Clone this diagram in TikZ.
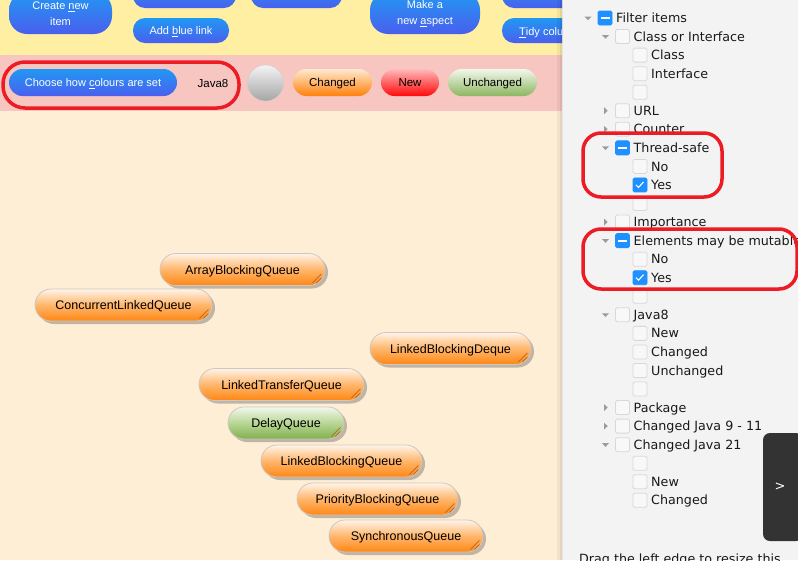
\documentclass[tikz,border=0pt]{standalone}
\usepackage{fontspec}
\setmainfont{Liberation Sans}
\newfontfamily\pf{DejaVu Sans}
\usetikzlibrary{shadows,calc}
\definecolor{tbyellow}{RGB}{255,239,163}
\definecolor{tbpink}{RGB}{248,198,192}
\definecolor{canvasbg}{RGB}{255,238,214}
\definecolor{panelbg}{RGB}{243,243,243}
\definecolor{btntop}{RGB}{33,152,243}
\definecolor{btnbot}{RGB}{74,95,238}
\definecolor{redmark}{RGB}{237,28,36}
\definecolor{orgtop}{RGB}{255,244,232}
\definecolor{orgmid}{RGB}{255,182,108}
\definecolor{orgbot}{RGB}{255,135,20}
\definecolor{grntop}{RGB}{242,248,236}
\definecolor{grnmid}{RGB}{184,214,148}
\definecolor{grnbot}{RGB}{128,176,78}
\definecolor{cbblue}{RGB}{30,144,255}
\definecolor{cbline}{RGB}{216,216,216}
\definecolor{trigray}{RGB}{155,155,155}
\definecolor{darkbtn}{RGB}{51,51,51}
\definecolor{griporg}{RGB}{190,100,25}
\definecolor{pilledge}{RGB}{205,200,195}
\definecolor{ptextc}{RGB}{25,25,25}
\tikzset{
  bluebtn/.style={draw=none, top color=btntop, bottom color=btnbot, text=white,
    font=\fontsize{11}{16}\selectfont, align=center, inner sep=0pt},
  oneline/.style={text height=10pt, text depth=2pt},
  btntext/.style={text=white, font=\fontsize{11}{16}\selectfont, inner sep=0pt},
  tagpill/.style={rounded corners=13.5pt, minimum height=27pt, inner sep=0pt, text=black,
    font=\fontsize{11.5}{14}\selectfont, text height=10.2pt, text depth=2pt},
  plaintext/.style={text=black, font=\fontsize{11.5}{14}\selectfont, inner sep=0pt,
    text height=10.2pt, text depth=2pt},
  qnode/.style={rounded corners=16pt, minimum height=32pt, inner sep=0pt, draw=pilledge,
    line width=0.8pt, top color=orgtop, bottom color=orgbot, middle color=orgmid,
    font=\fontsize{12.5}{14}\selectfont, text=black, text height=11pt, text depth=2pt,
    drop shadow={shadow xshift=3pt, shadow yshift=-3pt, opacity=0.35, fill=black!70}},
  qgreen/.style={top color=grntop, bottom color=grnbot, middle color=grnmid},
  gripline/.style={griporg, line width=0.7pt},
  redring/.style={redmark, line width=3.5pt, rounded corners=20pt},
  cbox/.style={draw=cbline, fill=panelbg!60!white, rounded corners=1.5pt, minimum size=14pt,
    inner sep=0pt, line width=0.8pt},
  ptext/.style={text=ptextc, font=\pf\fontsize{12.7}{15}\selectfont, inner sep=0pt},
}
\newcommand\qpill[6]{%
  \node[qnode,#6,minimum width=#4pt] (#1) at (#2,#3) {#5};
  \draw[gripline] ($(#1.south east)+(-13,-3)$) -- ($(#1.south east)+(-4,-12)$);
  \draw[gripline] ($(#1.south east)+(-9,-3)$) -- ($(#1.south east)+(-4,-8)$);
}
\begin{document}
\begin{tikzpicture}[x=1pt,y=-1pt]
\useasboundingbox (0,0) rectangle (798,560);
\clip (0,0) rectangle (798,560);
% ---------- left area ----------
\begin{scope}
\clip (0,0) rectangle (562,560);
\fill[canvasbg] (0,0) rectangle (562,560);
\fill[tbyellow] (0,0) rectangle (562,55);
\fill[tbpink] (0,55) rectangle (562,111);
% toolbar buttons
\node[bluebtn, rounded corners=18pt, minimum width=103pt, minimum height=42pt] (create) at (60.5,13) {};
\node[btntext, align=center] (createtxt) at (60.5,14) {Create \underline{n}ew\\item};
\node[bluebtn, rounded corners=12pt, minimum width=103pt, minimum height=25pt] (btwo) at (184.5,-4.5) {};
\node[bluebtn, oneline, rounded corners=12pt, minimum width=96pt, minimum height=25pt] (addblue) at (181,30.5) {Add \underline{b}lue link};
\node[bluebtn, rounded corners=12pt, minimum width=91pt, minimum height=25pt] (bthree) at (296.5,-4.5) {};
\node[bluebtn, rounded corners=18pt, minimum width=110pt, minimum height=42pt] (aspect) at (425,13) {};
\node[btntext, align=center] (aspecttxt) at (425,14) {Make a\\new \underline{a}spect};
\node[bluebtn, rounded corners=12pt, minimum width=100pt, minimum height=25pt] (bfive) at (552,-4.5) {};
\node[bluebtn, rounded corners=12pt, minimum width=100pt, minimum height=25pt] (tidy) at (552,30.5) {};
\node[btntext, anchor=base west] (tidytxt) at (519,35.5) {\underline{T}idy colu};
% colour row
\node[bluebtn, oneline, rounded corners=13.5pt, minimum width=168pt, minimum height=27pt] (choose) at (93,82.5) {Choose how \underline{c}olours are set};
\node[plaintext] (java) at (213,83) {Java8};
\node[circle, minimum size=36pt, inner sep=0pt, draw={rgb,255:red,205;green,205;blue,205},
  top color={rgb,255:red,244;green,244;blue,244}, bottom color={rgb,255:red,165;green,165;blue,165}] (ball) at (265.5,83) {};
\node[tagpill, minimum width=79pt, top color={rgb,255:red,255;green,234;blue,208}, bottom color={rgb,255:red,255;green,128;blue,10}] (changed) at (332.5,82.5) {Changed};
\node[tagpill, minimum width=58pt, top color={rgb,255:red,255;green,185;blue,185}, bottom color={rgb,255:red,255;green,10;blue,10}] (new) at (410,82.5) {New};
\node[tagpill, minimum width=89pt, top color={rgb,255:red,242;green,247;blue,236}, bottom color={rgb,255:red,140;green,182;blue,96}] (unchanged) at (492.5,82.5) {Unchanged};
\draw[redring, rounded corners=22pt] (3,62) rectangle (239,108);
% canvas items
\qpill{abq}{242.5}{269.5}{165}{ArrayBlockingQueue}{}
\qpill{clq}{123.5}{305}{177}{ConcurrentLinkedQueue}{}
\qpill{lbd}{450.5}{348.5}{161}{LinkedBlockingDeque}{}
\qpill{ltq}{281.5}{384.5}{165}{LinkedTransferQueue}{}
\qpill{dq}{286}{423}{116}{DelayQueue}{qgreen}
\qpill{lbq}{341.5}{461}{161}{LinkedBlockingQueue}{}
\qpill{pbq}{377.5}{499}{161}{PriorityBlockingQueue}{}
\qpill{sq}{406}{536}{154}{SynchronousQueue}{}
\end{scope}
% shadow of the panel edge
\fill[black, opacity=0.05] (557,0) rectangle (563,560);
\fill[black, opacity=0.06] (560,0) rectangle (563,560);
% ---------- right panel ----------
\fill[panelbg] (563,0) rectangle (798,560);
\foreach \i/\clv/\ctr/\cst/\lbl in {
 1/1/1/1/Filter items,
 2/2/1/0/Class or Interface,
 3/3/0/0/Class,
 4/3/0/0/Interface,
 5/3/0/0/,
 6/2/2/0/URL,
 7/2/2/0/Counter,
 8/2/1/1/Thread-safe,
 9/3/0/0/No,
 10/3/0/2/Yes,
 11/3/0/0/,
 12/2/2/0/Importance,
 13/2/1/1/Elements may be mutable,
 14/3/0/0/No,
 15/3/0/2/Yes,
 16/3/0/0/,
 17/2/1/0/Java8,
 18/3/0/0/New,
 19/3/0/0/Changed,
 20/3/0/0/Unchanged,
 21/3/0/0/,
 22/2/2/0/Package,
 23/2/2/0/Changed Java 9 - 11,
 24/2/1/0/Changed Java 21,
 25/3/0/0/,
 26/3/0/0/New,
 27/3/0/0/Changed}
{
  \pgfmathsetmacro\yy{18+18.55*(\i-1)}
  \pgfmathsetmacro\cx{587.5+17.5*\clv}
  \pgfmathsetmacro\trx{\cx-17}
  \ifnum\ctr=1
    \fill[trigray] (\trx-3.5,\yy-1.5) -- (\trx+3.5,\yy-1.5) -- (\trx,\yy+2.2) -- cycle;
  \fi
  \ifnum\ctr=2
    \fill[trigray] (\trx-1.5,\yy-3.5) -- (\trx-1.5,\yy+3.5) -- (\trx+2.2,\yy) -- cycle;
  \fi
  \ifnum\cst=0
    \node[cbox] (cb\i) at (\cx,\yy) {};
  \else
    \node[cbox, fill=cbblue, draw=cbblue] (cb\i) at (\cx,\yy) {};
  \fi
  \ifnum\cst=1
    \draw[white, line width=2pt] ($(cb\i.center)+(-4.5,0)$) -- ++(9,0);
  \fi
  \ifnum\cst=2
    \draw[white, line width=1.1pt] ($(cb\i.center)+(-4,0)$) -- ++(2.5,2.5) -- ++(5,-5.5);
  \fi
  \ifx\lbl\empty\else
    \node[ptext, anchor=base west] (lb\i) at (\cx+11,\yy+4.6) {\lbl};
  \fi
}
\node[ptext, anchor=base west] (drag) at (579,563) {Drag the left edge to resize this};
% toggle button
\node[fill=darkbtn, rounded corners=7pt, minimum width=40pt, minimum height=108pt, inner sep=0pt] (toggle) at (783,487) {};
\node[text=white, font=\pf\fontsize{13}{13}\selectfont, inner sep=0pt] (toggletxt) at (780,487) {>};
% red marks
\draw[redring, rounded corners=18pt] (583,133) rectangle (722,197);
\draw[redring, rounded corners=18pt] (583,229) rectangle (797,289);
\end{tikzpicture}
\end{document}
